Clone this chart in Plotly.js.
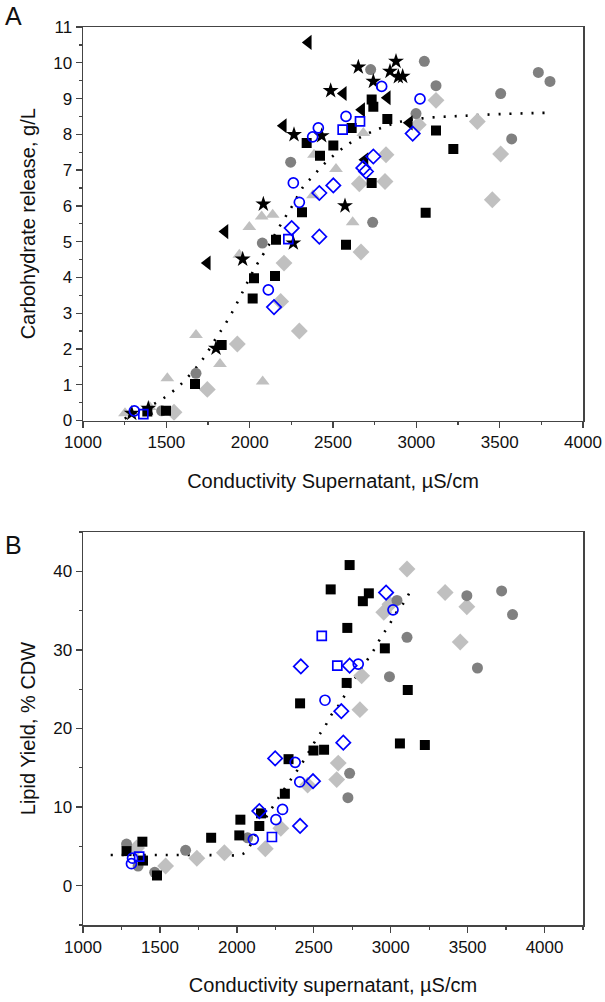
<!DOCTYPE html>
<html><head><meta charset="utf-8">
<script src="https://cdn.plot.ly/plotly-3.0.1.min.js"></script>
<style>html,body{margin:0;padding:0;background:#fff}#chart{width:605px;height:1002px}</style>
</head><body><div id="chart"></div>
<script>
// ---------- Panel A: Carbohydrate release (g/L) ----------
const aSquareX = [1386,1498,1672,1832,2018,2026,2152,2158,2314,2342,2422,2502,2578,2612,2732,2742,2732,2826,3056,3118,3222];
const aSquareY = [0.25,0.27,1.02,2.11,3.41,3.98,4.04,5.05,5.82,7.76,7.40,7.69,4.91,8.18,8.97,8.77,6.64,8.43,5.81,8.11,7.59];
const aCircleX = [1472,1678,2076,2246,2726,2738,2998,3048,3118,3506,3572,3732,3802];
const aCircleY = [0.27,1.32,4.96,7.22,9.81,5.54,8.58,10.04,9.36,9.14,7.87,9.73,9.48];
const aDiamondX = [1546,1746,1926,2186,2206,2298,2658,2668,2812,2818,3012,3118,3366,3456,3506];
const aDiamondY = [0.23,0.87,2.14,3.33,4.40,2.50,6.62,4.71,6.68,7.43,8.27,8.95,8.36,6.17,7.45];
const aTriX = [1252,1400,1506,1678,1822,1938,1998,2072,2078,2138,2380,2386,2518,2618,2682];
const aTriY = [0.2,0.38,1.18,2.39,1.58,4.63,5.41,5.70,1.09,5.75,6.3,7.43,7.03,5.54,8.04];
const aOCircleX = [1308,2112,2262,2298,2378,2412,2578,2792,3022];
const aOCircleY = [0.27,3.65,6.64,6.10,7.93,8.18,8.50,9.34,8.99];
const aOSquareX = [1362,2232,2558,2662];
const aOSquareY = [0.18,5.07,8.13,8.36];
const aODiamondX = [2146,2252,2418,2418,2502,2682,2698,2742,2978];
const aODiamondY = [3.17,5.38,5.14,6.36,6.57,7.06,6.96,7.38,8.02];
const aStarX = [1292,1392,1798,1958,2082,2262,2266,2432,2486,2572,2652,2742,2842,2878,2892,2918];
const aStarY = [0.2,0.34,2.02,4.51,6.05,4.96,7.99,7.96,9.22,6.0,9.88,9.48,9.76,10.04,9.61,9.62];
const aLeftX = [1746,1852,2202,2352,2562,2672,2692,2826,2958];
const aLeftY = [4.40,5.28,8.24,10.57,9.14,8.69,7.29,9.02,8.32];
const aFitX = [1250,1330,1432,1492,1558,1612,1718,1802,1846,1892,1966,2012,2046,2086,2206,2252,2322,2378,2432,2486,2546,2618,2762,2912,3062,3292,3532,3772];
const aFitY = [0.05,0.25,0.48,0.65,0.89,1.13,1.71,2.33,2.64,3.0,3.67,4.1,4.38,4.68,5.63,5.97,6.54,6.82,7.1,7.34,7.57,7.8,8.13,8.36,8.46,8.52,8.57,8.6];

// ---------- Panel B: Lipid yield (% CDW) ----------
const bSquareX = [1283,1386,1390,1481,1833,2016,2023,2146,2157,2312,2336,2411,2498,2567,2610,2714,2718,2733,2819,2858,2962,3060,3111,3222];
const bSquareY = [4.4,5.6,3.2,1.3,6.1,6.4,8.4,7.6,9.2,11.7,16.1,23.2,17.2,17.3,37.7,25.8,32.8,40.8,36.2,37.2,30.2,18.1,24.9,17.9];
const bCircleX = [1283,1358,1466,1667,2070,2722,2733,2992,3041,3106,3495,3564,3721,3792];
const bCircleY = [5.3,2.5,1.7,4.5,6.1,11.2,14.3,26.6,36.3,31.6,36.9,27.7,37.5,34.5];
const bDiamondX = [1348,1537,1740,1919,2185,2286,2460,2649,2659,2800,2811,2955,2995,3106,3354,3452,3495];
const bDiamondY = [4.8,2.5,3.5,4.2,4.7,7.3,12.8,13.5,15.6,22.4,26.7,34.8,35.8,40.3,37.3,31.0,35.5];
const bOCircleX = [1315,1322,2107,2254,2297,2379,2409,2573,2789,3015];
const bOCircleY = [2.8,3.5,5.9,8.4,9.7,15.7,13.2,23.6,28.2,35.1];
const bOSquareX = [1365,2228,2552,2653];
const bOSquareY = [3.7,6.2,31.8,28.0];
const bODiamondX = [2146,2249,2411,2416,2495,2679,2692,2733,2970];
const bODiamondY = [9.5,16.2,7.6,27.9,13.3,22.2,18.2,28.0,37.3];
const bFitX = [1180,1400,1600,1800,2000,2053,2130,2190,2232,2336,2383,2431,2519,2571,2610,2664,2707,2798,2854,2897,2940,2988,3031,3085,3128];
const bFitY = [3.9,3.9,3.9,3.9,3.9,4.2,6.8,8.7,10.0,13.1,14.4,15.8,18.7,20.2,21.6,23.0,24.4,27.3,28.9,30.2,31.7,33.1,34.6,36.0,37.5];

const xTicks = [1000,1500,2000,2500,3000,3500,4000];

const BLUE = '#0000ff', DG = '#808080', LG = '#c0c0c0';
function mk(x, y, ax, symbol, size, color, open){
  const m = {symbol: symbol, size: size};
  if (open){ m.color = 'rgba(0,0,0,0)'; m.line = {color: color, width: 1.7}; }
  else { m.color = color; m.line = {width: 0}; }
  return {x: x, y: y, type: 'scatter', mode: 'markers', xaxis: ax[0], yaxis: ax[1], marker: m, hoverinfo: 'x+y'};
}
function fit(x, y, ax){
  return {x: x, y: y, type: 'scatter', mode: 'lines', xaxis: ax[0], yaxis: ax[1], line: {color: '#000', width: 2.6, dash: '2px,9px', shape: 'spline'}, hoverinfo: 'skip'};
}
const A = ['x','y'], B = ['x2','y2'];
const data = [
  fit(aFitX, aFitY, A),
  mk(aTriX, aTriY, A, 'triangle-up', 12, LG, false),
  mk(aDiamondX, aDiamondY, A, 'diamond', 13, LG, false),
  mk(aCircleX, aCircleY, A, 'circle', 11, DG, false),
  mk(aSquareX, aSquareY, A, 'square', 10, '#000', false),
  mk(aStarX, aStarY, A, 'star', 12, '#000', false),
  mk(aLeftX, aLeftY, A, 'triangle-left', 13, '#000', false),
  mk(aOCircleX, aOCircleY, A, 'circle', 10, BLUE, true),
  mk(aOSquareX, aOSquareY, A, 'square', 9, BLUE, true),
  mk(aODiamondX, aODiamondY, A, 'diamond', 11, BLUE, true),

  fit(bFitX, bFitY, B),
  mk(bDiamondX, bDiamondY, B, 'diamond', 13, LG, false),
  mk(bCircleX, bCircleY, B, 'circle', 11, DG, false),
  mk(bSquareX, bSquareY, B, 'square', 10, '#000', false),
  mk(bOCircleX, bOCircleY, B, 'circle', 10, BLUE, true),
  mk(bOSquareX, bOSquareY, B, 'square', 9, BLUE, true),
  mk(bODiamondX, bODiamondY, B, 'diamond', 11, BLUE, true)
];

const FONT = 'Liberation Sans, Arial, sans-serif';
const axisBase = {
  showgrid: false, zeroline: false, showline: true, mirror: true,
  linecolor: '#444', linewidth: 1.5, ticks: 'outside', ticklen: 6, tickwidth: 1.3, tickcolor: '#444',
  tickfont: {family: FONT, size: 17, color: '#111'}
};
const minorX = {dtick: 250, ticklen: 3, tickcolor: '#444', ticks: 'outside'};
const layout = {
  width: 605, height: 1002, showlegend: false,
  paper_bgcolor: '#fff', plot_bgcolor: '#fff',
  margin: {l: 83, r: 22, t: 27, b: 77},
  font: {family: FONT, color: '#111'},
  xaxis: Object.assign({}, axisBase, {
    domain: [0,1], anchor: 'y', range: [1000, 4000], tickvals: xTicks, minor: minorX,
    title: {text: 'Conductivity Supernatant, \u00b5S/cm', font: {family: FONT, size: 20}, standoff: 22}
  }),
  yaxis: Object.assign({}, axisBase, {
    domain: [0.5618, 1], anchor: 'x', range: [0, 11], dtick: 1,
    minor: {dtick: 0.5, ticklen: 3, tickcolor: '#444', ticks: 'outside'},
    title: {text: 'Carbohydrate release, g/L', font: {family: FONT, size: 20}, standoff: 12}
  }),
  xaxis2: Object.assign({}, axisBase, {
    domain: [0,1], anchor: 'y2', range: [1000, 4250], tickvals: xTicks, minor: minorX,
    title: {text: 'Conductivity supernatant, \u00b5S/cm', font: {family: FONT, size: 20}, standoff: 22}
  }),
  yaxis2: Object.assign({}, axisBase, {
    domain: [0, 0.4376], anchor: 'x2', range: [-5, 45], dtick: 10,
    minor: {dtick: 5, ticklen: 3, tickcolor: '#444', ticks: 'outside'},
    title: {text: 'Lipid Yield, % CDW', font: {family: FONT, size: 20}, standoff: 12}
  }),
  annotations: [
    {text: 'A', xref: 'paper', yref: 'paper', x: -0.14, y: 1.012, xanchor: 'center', yanchor: 'middle', showarrow: false, font: {family: FONT, size: 25, color: '#111'}},
    {text: 'B', xref: 'paper', yref: 'paper', x: -0.14, y: 0.423, xanchor: 'center', yanchor: 'middle', showarrow: false, font: {family: FONT, size: 25, color: '#111'}}
  ]
};
Plotly.newPlot('chart', data, layout, {staticPlot: true, displayModeBar: false});
</script></body></html>
